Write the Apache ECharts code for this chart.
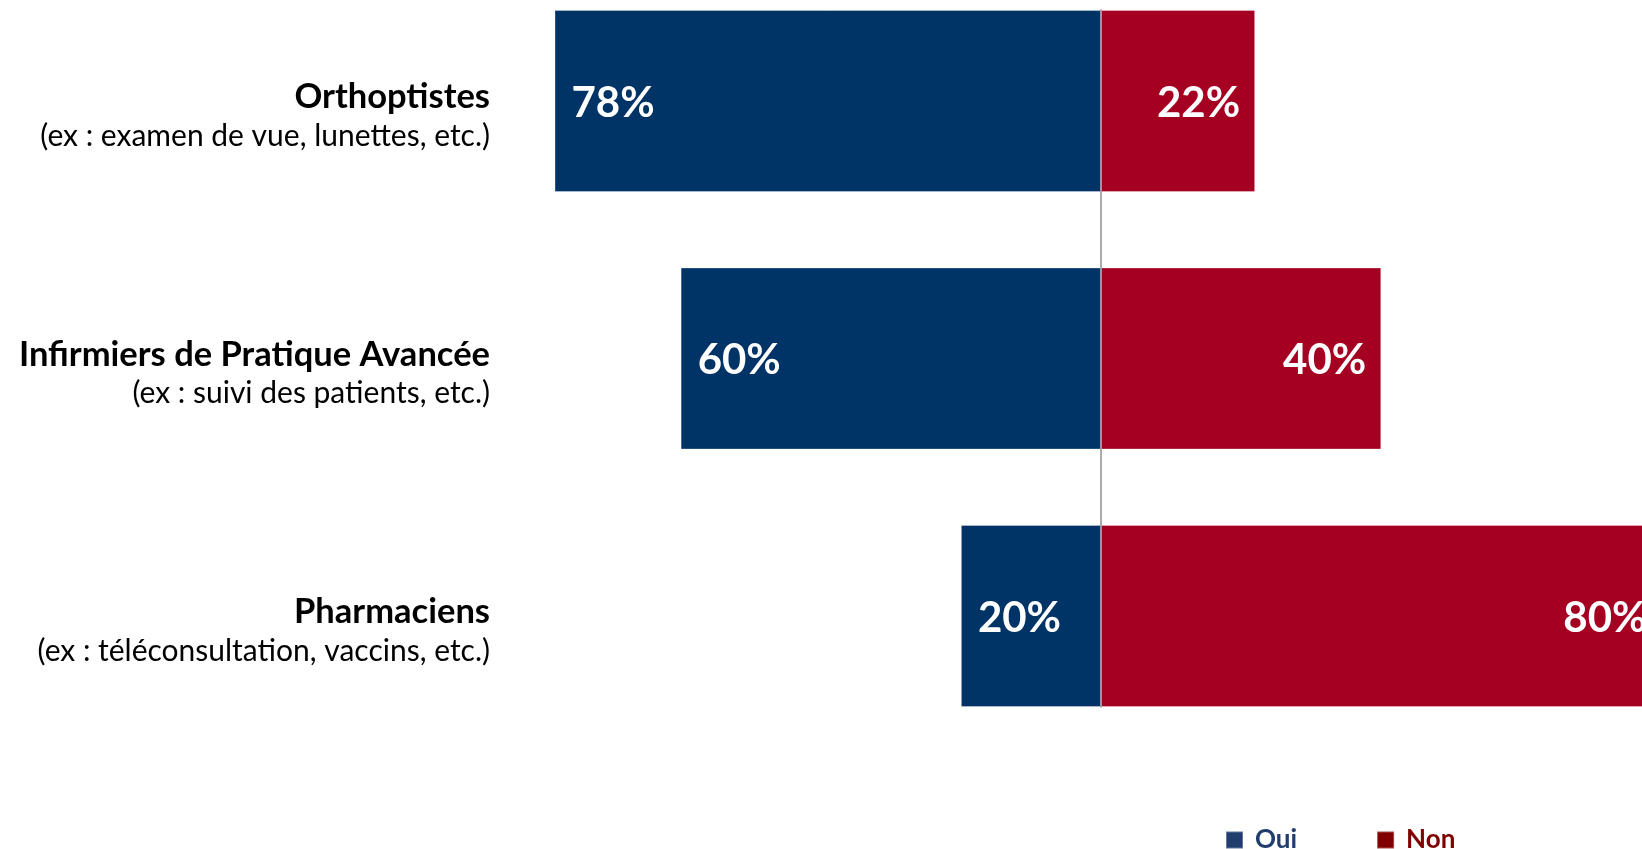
<!DOCTYPE html>
<html>
<head>
<meta charset="utf-8">
<script src="https://cdn.jsdelivr.net/npm/echarts@6/dist/echarts.min.js"></script>
<style>
html,body{margin:0;padding:0;background:#fff;}
#chart{width:1642px;height:849px;}
</style>
</head>
<body>
<div id="chart"></div>
<script>
const categories = ['Orthoptistes', 'Infirmiers de Pratique Avancée', 'Pharmaciens'];
const subtitles = ['(ex : examen de vue, lunettes, etc.)', '(ex : suivi des patients, etc.)', '(ex : téléconsultation, vaccins, etc.)'];
const ouiValues = [78, 60, 20];
const nonValues = [22, 40, 80];
const seriesNames = ['Oui', 'Non'];

const chart = echarts.init(document.getElementById('chart'));
const FONT = 'Lato';
const gridLeft = 540.5, gridRight = -19.5;

const option = {
  animation: false,
  backgroundColor: '#ffffff',
  grid: [
    { left: gridLeft, right: gridRight, top: -27.75, bottom: 104.25, outerBoundsMode: 'none', containLabel: false },
    { left: gridLeft, right: gridRight, top: 10, bottom: 142, outerBoundsMode: 'none', containLabel: false }
  ],
  legend: {
    left: 1220, top: 822,
    itemWidth: 17, itemHeight: 17, itemGap: 79,
    icon: 'rect',
    selectedMode: false,
    data: [
      { name: seriesNames[0], itemStyle: { color: '#203d6e' }, textStyle: { color: '#203d6e' } },
      { name: seriesNames[1], itemStyle: { color: '#800000' }, textStyle: { color: '#800000' } }
    ],
    textStyle: { fontFamily: FONT, fontWeight: 'bold', fontSize: 26, lineHeight: 26, padding: [0, 0, 0, 7] }
  },
  xAxis: [
    { type: 'value', gridIndex: 0, min: -80, max: 80, show: false },
    { type: 'value', gridIndex: 1, min: -80, max: 80, show: false }
  ],
  yAxis: [
    {
      type: 'category', gridIndex: 0, data: categories, inverse: true,
      axisLine: { show: false, onZero: false }, axisTick: { show: false },
      axisLabel: {
        margin: 50.5, align: 'right', padding: [31, 0, 0, 0],
        formatter: (v, i) => '{t|' + v + '}\n{s|' + subtitles[i] + '}',
        rich: {
          t: { fontFamily: FONT, fontWeight: 'bold', fontSize: 34.5, lineHeight: 39, color: '#000', align: 'right' },
          s: { fontFamily: FONT, fontSize: 30, lineHeight: 39, color: '#000', align: 'right' }
        }
      }
    },
    {
      type: 'category', gridIndex: 1, data: categories, inverse: true, z: 10,
      axisLine: { show: true, onZero: true, lineStyle: { color: '#8f8f8f', width: 1.5 } },
      axisTick: { show: false }, axisLabel: { show: false }
    }
  ],
  series: [
    {
      name: seriesNames[0], type: 'bar', stack: 'total', barWidth: 182,
      xAxisIndex: 0, yAxisIndex: 0,
      data: ouiValues.map(v => -v),
      itemStyle: { color: '#003366', borderColor: 'rgba(255,255,255,0.3)', borderWidth: 1 },
      label: {
        show: true, position: 'insideLeft', distance: 17, offset: [0, 2],
        formatter: p => Math.abs(p.value) + '%',
        fontFamily: FONT, fontWeight: 'bold', fontSize: 42, color: '#fff'
      }
    },
    {
      name: seriesNames[1], type: 'bar', stack: 'total', barWidth: 182,
      xAxisIndex: 0, yAxisIndex: 0,
      data: nonValues,
      itemStyle: { color: '#a50021', borderColor: 'rgba(255,255,255,0.3)', borderWidth: 1 },
      label: {
        show: true, position: 'insideRight', distance: 15, offset: [0, 2],
        formatter: p => p.value + '%',
        fontFamily: FONT, fontWeight: 'bold', fontSize: 42, color: '#fff'
      }
    }
  ]
};
chart.setOption(option);
</script>
</body>
</html>
